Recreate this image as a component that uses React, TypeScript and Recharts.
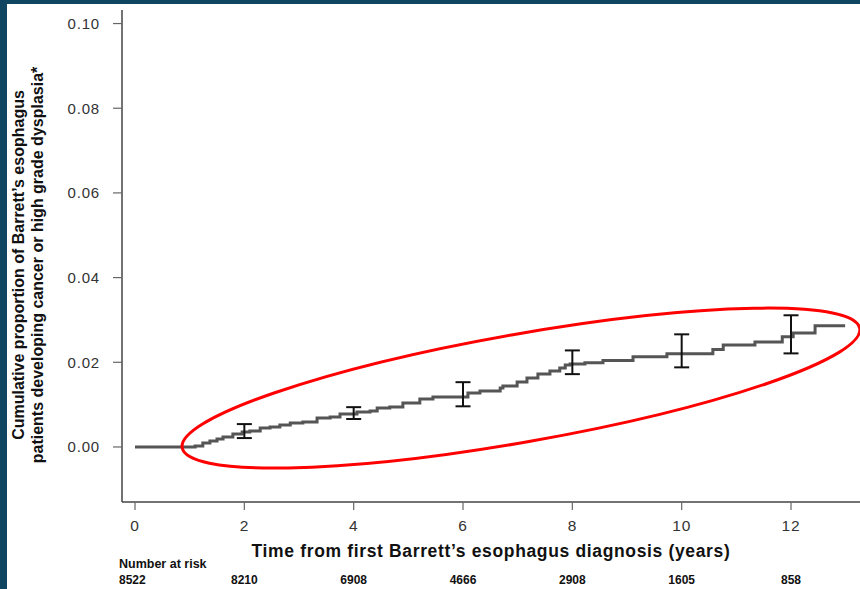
import { ComposedChart, Line, Scatter, ErrorBar, XAxis, YAxis, Label } from 'recharts';

// Kaplan-Meier style cumulative incidence
const curveT = [
  0, 1.006, 1.1, 1.24, 1.37, 1.5, 1.61, 1.79, 1.96, 2.1, 2.29, 2.47, 2.65, 2.84, 3.07, 3.33, 3.57,
  3.75, 4.06, 4.3, 4.43, 4.66, 4.9, 5.21, 5.45, 6.09, 6.31, 6.68, 6.73, 6.99, 7.17, 7.37, 7.59,
  7.77, 7.87, 7.96, 8.23, 8.56, 9.11, 9.73, 10.57, 10.76, 11.34, 11.84, 12.04, 12.44, 12.99,
];
const curveY = [
  0, 0, 0.00024, 0.00094, 0.00142, 0.00189, 0.00236, 0.00307, 0.00354, 0.00378, 0.00449, 0.00472,
  0.0052, 0.00567, 0.0059, 0.00685, 0.00708, 0.00779, 0.00827, 0.0085, 0.00921, 0.00945, 0.01039,
  0.01134, 0.01181, 0.01275, 0.01323, 0.01393, 0.01441, 0.01535, 0.0163, 0.01724, 0.01795, 0.01866,
  0.01937, 0.0196, 0.0199, 0.0204, 0.0213, 0.022, 0.023, 0.0241, 0.0248, 0.026, 0.0269, 0.0286,
  0.0286,
];

// 95% CI at 2-year marks
const ciT = [2, 4, 6, 8, 10, 12];
const ciEst = [0.0036, 0.0081, 0.012, 0.0197, 0.0222, 0.0262];
const ciLow = [0.0021, 0.0066, 0.0096, 0.0172, 0.0188, 0.0221];
const ciHigh = [0.0054, 0.0094, 0.0153, 0.0228, 0.0266, 0.0311];

const xTicks = [0, 2, 4, 6, 8, 10, 12];
const yTicks = [0, 0.02, 0.04, 0.06, 0.08, 0.1];
const atRisk = [8522, 8210, 6908, 4666, 2908, 1605, 858];

const X_DOMAIN: [number, number] = [-0.238, 13.262];
const Y_DOMAIN: [number, number] = [-0.013, 0.1032];

const W = 860;
const H = 589;
const MARGIN = { top: 10, right: 0, bottom: 0, left: 0 };
const Y_AXIS_W = 122;
const X_AXIS_H = 87;

const FONT = '"Liberation Sans", Arial, Helvetica, sans-serif';

const curve = curveT.map((t, i) => ({ t, y: curveY[i] }));
const ci = ciT.map((t, i) => ({ t, est: ciEst[i], err: [ciEst[i] - ciLow[i], ciHigh[i] - ciEst[i]] }));

// plot-area mapping for the annotations drawn on top
const plotL = MARGIN.left + Y_AXIS_W;
const plotR = W - MARGIN.right;
const plotT = MARGIN.top;
const plotB = H - X_AXIS_H;
const sx = (t: number) => plotL + ((t - X_DOMAIN[0]) / (X_DOMAIN[1] - X_DOMAIN[0])) * (plotR - plotL);
const sy = (v: number) => plotT + ((Y_DOMAIN[1] - v) / (Y_DOMAIN[1] - Y_DOMAIN[0])) * (plotB - plotT);

const ellipse = { t: 7.06, v: 0.0139, rx: 344, ry: 54, angle: -10 };

export default function App() {
  const cx = sx(ellipse.t);
  const cy = sy(ellipse.v);
  return (
    <div style={{ position: 'absolute', left: 0, top: 0, width: W, height: H, background: '#0f4561', fontFamily: FONT }}>
      <div style={{ position: 'absolute', left: 7, top: 4, right: 0, bottom: 0, background: '#fff' }} />
      <div style={{ position: 'absolute', left: 0, top: 0 }}>
        <ComposedChart width={W} height={H} margin={MARGIN}>
          <XAxis
            dataKey="t"
            type="number"
            domain={X_DOMAIN}
            allowDataOverflow
            ticks={xTicks}
            interval={0}
            height={X_AXIS_H}
            axisLine={{ stroke: '#444', strokeWidth: 1.5 }}
            tickLine={{ stroke: '#666', strokeWidth: 1.2 }}
            tickSize={8}
            tickMargin={10}
            tick={{ fontSize: 15.5, fill: '#333', fontFamily: FONT, letterSpacing: 0.8 }}
          >
            <Label
              value="Time from first Barrett’s esophagus diagnosis (years)"
              position="insideBottom"
              offset={32}
              style={{ fontSize: 17.5, fontWeight: 700, fill: '#111', fontFamily: FONT, letterSpacing: 0.65 }}
            />
          </XAxis>
          <YAxis
            type="number"
            domain={Y_DOMAIN}
            allowDataOverflow
            ticks={yTicks}
            interval={0}
            width={Y_AXIS_W}
            axisLine={{ stroke: '#444', strokeWidth: 1.5 }}
            tickLine={{ stroke: '#666', strokeWidth: 1.2 }}
            tickSize={9}
            tickMargin={13}
            tickFormatter={(v: number) => v.toFixed(2)}
            tick={{ fontSize: 15, fill: '#333', fontFamily: FONT, letterSpacing: 0.8 }}
          />
          <Line
            data={curve}
            dataKey="y"
            type="stepAfter"
            stroke="#555"
            strokeWidth={3}
            dot={false}
            isAnimationActive={false}
          />
          <Scatter data={ci} dataKey="est" shape={() => <g />} isAnimationActive={false}>
            <ErrorBar dataKey="err" direction="y" width={7.5} stroke="#111" strokeWidth={2} />
          </Scatter>
        </ComposedChart>
      </div>
      <svg width={W} height={H} style={{ position: 'absolute', left: 0, top: 0, pointerEvents: 'none' }}>
        <g fontFamily={FONT} fontWeight={700} fill="#111" fontSize={16} textAnchor="middle">
          <text transform="translate(24,265) rotate(-90)">Cumulative proportion of Barrett’s esophagus</text>
          <text transform="translate(43,265) rotate(-90)">patients developing cancer or high grade dysplasia*</text>
        </g>
        <g fontFamily={FONT} fontWeight={700} fill="#111" fontSize={12}>
          <text x={119} y={568} fontSize={12.5}>
            Number at risk
          </text>
          {xTicks.map((t, i) => (
            <text key={t} x={i === 0 ? 119 : sx(t)} y={584} textAnchor={i === 0 ? 'start' : 'middle'}>
              {atRisk[i]}
            </text>
          ))}
        </g>
        <ellipse
          cx={cx}
          cy={cy}
          rx={ellipse.rx}
          ry={ellipse.ry}
          transform={`rotate(${ellipse.angle} ${cx} ${cy})`}
          fill="none"
          stroke="#f00"
          strokeWidth={3}
        />
      </svg>
    </div>
  );
}
